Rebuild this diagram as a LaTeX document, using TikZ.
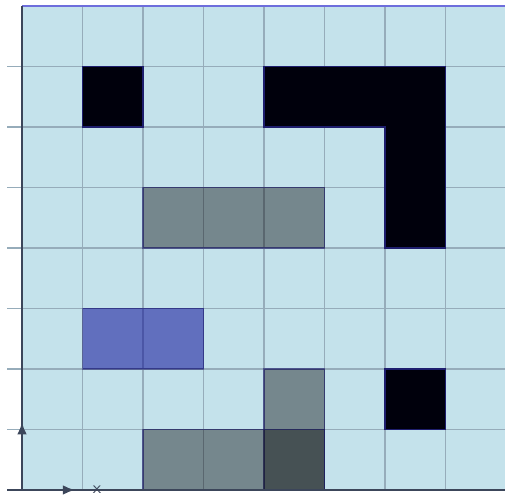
\documentclass[tikz,border=0pt]{standalone}
\usetikzlibrary{arrows.meta}
\definecolor{cellbg}{RGB}{196,226,235}
\definecolor{gridline}{RGB}{150,172,186}
\definecolor{topline}{RGB}{110,110,220}
\definecolor{wallfill}{RGB}{0,0,12}
\definecolor{wallline}{RGB}{30,30,110}
\definecolor{goalfill}{RGB}{10,10,150}
\definecolor{axisline}{RGB}{60,70,90}
\begin{document}
\begin{tikzpicture}[
  wall/.style={fill=wallfill, draw=wallline, line width=0.6pt},
  shadecell/.style={fill=black, fill opacity=0.4, draw=wallline, draw opacity=0.6, line width=0.8pt},
  goal/.style={fill=goalfill, fill opacity=0.53, draw=wallline, draw opacity=0.5, line width=0.6pt},
  gridrule/.style={draw=gridline, line width=0.6pt},
  axis/.style={-{Latex[length=2mm,width=1.6mm]}, draw=axisline, line width=1pt}
]
\useasboundingbox (-0.364,-0.132) rectangle (7.983,8.099);
% board
\fill[cellbg] (0,0) rectangle (8,8);
\foreach \i in {1,...,7} {
  \draw[gridrule] (\i,0) -- (\i,8);
  \draw[gridrule] (-0.248,\i) -- (8,\i);
}
% walls
\draw[wall] (1,6) rectangle (2,7);
\draw[wall] (4,6) -- (6,6) -- (6,4) -- (7,4) -- (7,7) -- (4,7) -- cycle;
\draw[wall] (6,1) rectangle (7,2);
% shaded cells
\draw[shadecell] (2,4) rectangle (5,5);
\draw[shadecell] (4,0) rectangle (5,2);
\draw[shadecell] (2,0) rectangle (5,1);
% goal
\draw[goal] (1,2) rectangle (3,3);
% frame
\draw[topline, line width=1.2pt] (0,8) -- (8,8);
\draw[axisline, line width=0.9pt] (0,0) -- (0,8);
\draw[axisline, line width=0.9pt] (-0.248,0) -- (8,0);
% axes
\coordinate (o) at (0,0);
\coordinate (xend) at (0.876,0);
\coordinate (yend) at (0,1.12);
\draw[axis] ([xshift=-0.248cm]o) -- (xend);
\draw[axis] (o) -- (yend);
\node[text=axisline, font=\footnotesize\sffamily, inner sep=1pt] (xlab) at (1.24,0) {x};
\end{tikzpicture}
\end{document}
